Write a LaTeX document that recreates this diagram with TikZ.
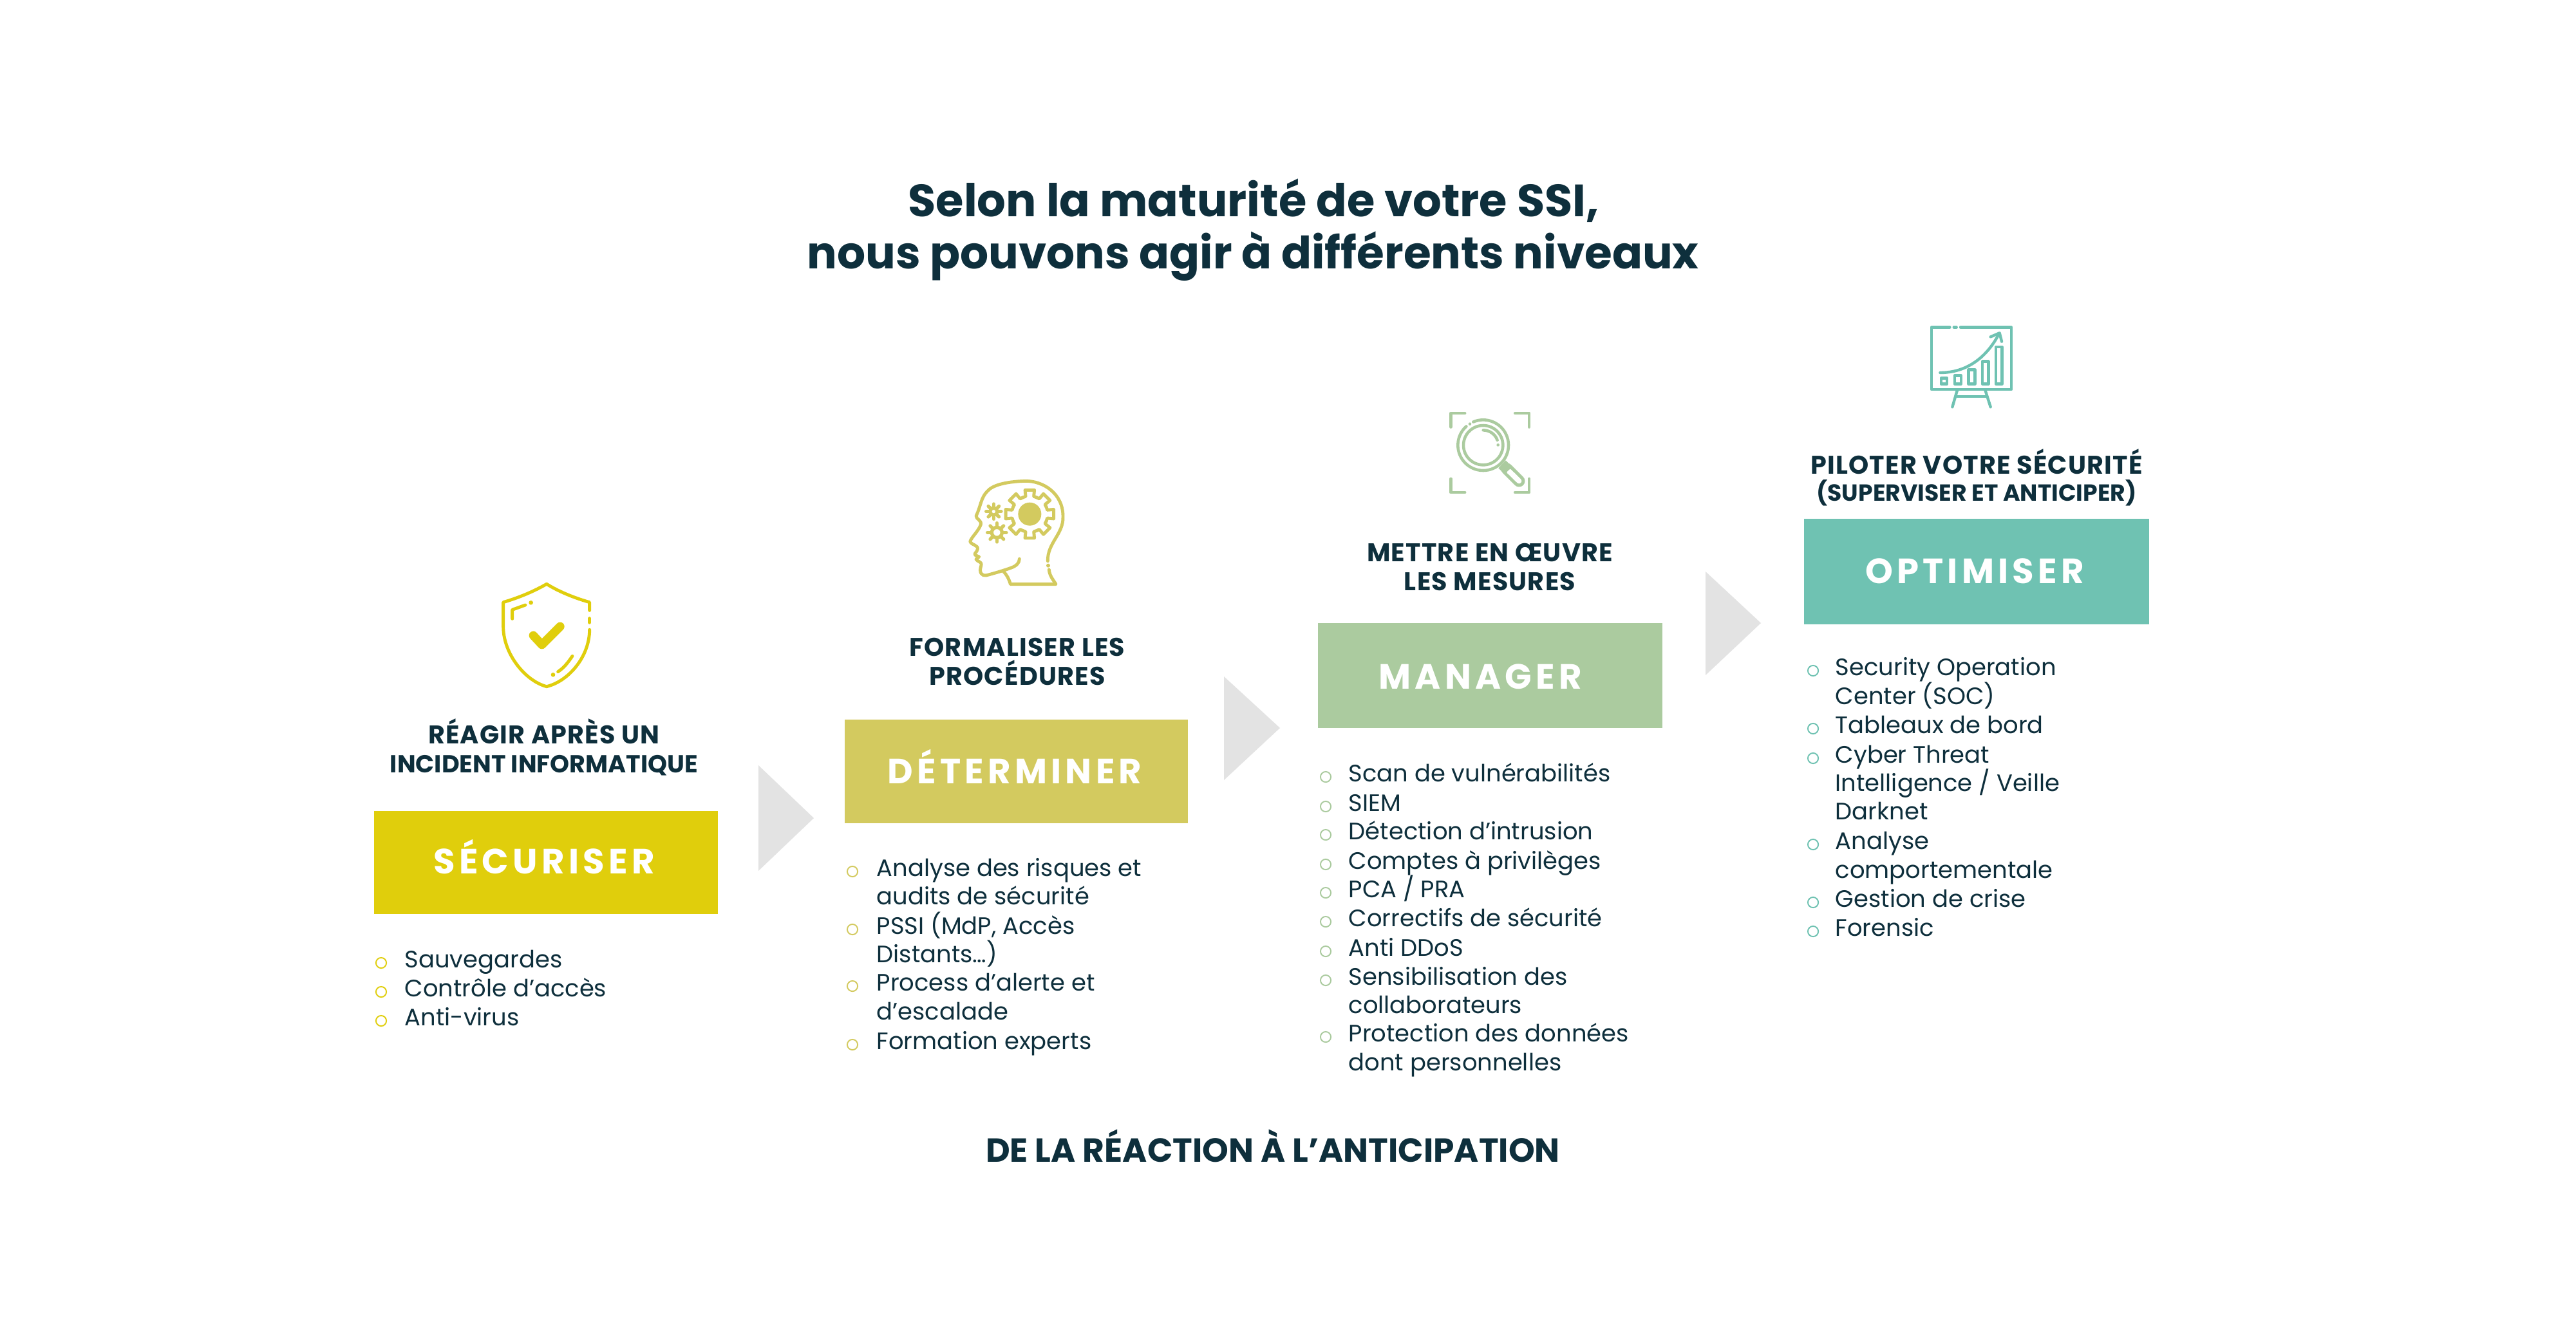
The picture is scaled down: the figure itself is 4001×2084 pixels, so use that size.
\documentclass[tikz,border=0pt]{standalone}
\usepackage{fontspec}
\setmainfont{Poppins}
\newfontfamily\boxfont[LetterSpace=11.5]{Poppins}
\newfontfamily\tetefont[LetterSpace=3]{Poppins}
\definecolor{encre}{HTML}{0E2F3C}
\definecolor{jaune}{HTML}{E0CE0C}
\definecolor{olive}{HTML}{D3CA5F}
\definecolor{vert}{HTML}{ABCB9F}
\definecolor{turquoise}{HTML}{6FC2B2}
\definecolor{gris}{HTML}{E3E3E3}
\tikzset{
  titre/.style={anchor=base,inner sep=0pt,text=encre,font=\fontsize{19.7}{24}\bfseries},
  tete/.style={anchor=base,inner sep=0pt,text=encre,font=\fontsize{11.3}{12}\tetefont\bfseries},
  ligne/.style={anchor=base west,inner sep=0pt,text=encre,font=\fontsize{10.5}{12}\selectfont},
  marque/.style={anchor=base,inner sep=0pt,text=white,font=\fontsize{15.5}{18}\boxfont\bfseries},
  puce/.style={circle,draw=#1,line width=0.55pt,fill=white,minimum size=4.6pt,inner sep=0pt},
  icone/.style={draw=#1,line width=1.4pt,line cap=round,line join=round},
}
\begin{document}
\begin{tikzpicture}[x=0.01cm,y=-0.01cm]
    \useasboundingbox [fill=white] (0,0) rectangle (4001,2084);
    \node [titre,font=\fontsize{20}{24}\bfseries] (t1) at (1947,336) {Selon la maturité de votre SSI,};
    \node [titre] (t2) at (1946,417) {nous pouvons agir à différents niveaux};
    \node [titre,font=\fontsize{14.75}{16}\bfseries] (bas) at (1977,1805) {DE LA RÉACTION À L’ANTICIPATION};

    \fill [gris] (1178,1189) -- (1264,1271) -- (1178,1353) -- cycle;
    \fill [gris] (1901,1051) -- (1988,1131) -- (1901,1212) -- cycle;
    \fill [gris] (2649,888) -- (2735,968) -- (2649,1049) -- cycle;

    \fill [jaune] (581,1260) rectangle (1115,1420);
    \fill [olive] (1312,1118) rectangle (1845,1279);
    \fill [vert] (2047,968) rectangle (2582,1131);
    \fill [turquoise] (2802,806) rectangle (3338,970);
    \node [marque] (securiser) at (845,1357) {SÉCURISER};
    \node [marque] (determiner) at (1576,1217) {DÉTERMINER};
    \node [marque] (manager) at (2299,1070) {MANAGER};
    \node [marque] (optimiser) at (3067,906) {OPTIMISER};

    \node [tete] (h11) at (845,1155) {RÉAGIR APRÈS UN};
    \node [tete,font=\fontsize{10.85}{12}\bfseries] (h12) at (845,1200) {INCIDENT INFORMATIQUE};
    \node [tete] (h21) at (1580,1019) {FORMALISER LES};
    \node [tete] (h22) at (1580,1064) {PROCÉDURES};
    \node [tete] (h31) at (2314,872) {METTRE EN ŒUVRE};
    \node [tete] (h32) at (2314,917) {LES MESURES};
    \node [tete] (h41) at (3070,736) {PILOTER VOTRE SÉCURITÉ};
    \node [tete,font=\fontsize{10.3}{12}\bfseries] (h42) at (3070,778) {(SUPERVISER ET ANTICIPER)};

    \node [ligne] (a1) at (628,1503) {Sauvegardes};
    \node [ligne] (a2) at (628,1548) {Contrôle d’accès};
    \node [ligne] (a3) at (628,1593) {Anti-virus};
    \node [puce=jaune] (pa1) at (592,1496) {};
    \node [puce=jaune] (pa2) at (592,1541) {};
    \node [puce=jaune] (pa3) at (592,1586) {};

    \node [ligne] (b1) at (1361,1361) {Analyse des risques et};
    \node [ligne] (b2) at (1361,1405) {audits de sécurité};
    \node [ligne] (b3) at (1361,1451) {PSSI (MdP, Accès};
    \node [ligne] (b4) at (1361,1495) {Distants…)};
    \node [ligne] (b5) at (1361,1539) {Process d’alerte et};
    \node [ligne] (b6) at (1361,1584) {d’escalade};
    \node [ligne] (b7) at (1361,1630) {Formation experts};
    \node [puce=olive] (pb1) at (1324,1354) {};
    \node [puce=olive] (pb2) at (1324,1444) {};
    \node [puce=olive] (pb3) at (1324,1532) {};
    \node [puce=olive] (pb4) at (1324,1623) {};

    \node [ligne] (c1) at (2094,1214) {Scan de vulnérabilités};
    \node [ligne] (c2) at (2094,1260) {SIEM};
    \node [ligne] (c3) at (2094,1304) {Détection d’intrusion};
    \node [ligne] (c4) at (2094,1350) {Comptes à privilèges};
    \node [ligne] (c5) at (2094,1394) {PCA / PRA};
    \node [ligne] (c6) at (2094,1439) {Correctifs de sécurité};
    \node [ligne] (c7) at (2094,1485) {Anti DDoS};
    \node [ligne] (c8) at (2094,1530) {Sensibilisation des};
    \node [ligne] (c9) at (2094,1574) {collaborateurs};
    \node [ligne] (c10) at (2094,1618) {Protection des données};
    \node [ligne] (c11) at (2094,1663) {dont personnelles};
    \node [puce=vert] (pc1) at (2059,1207) {};
    \node [puce=vert] (pc2) at (2059,1253) {};
    \node [puce=vert] (pc3) at (2059,1297) {};
    \node [puce=vert] (pc4) at (2059,1343) {};
    \node [puce=vert] (pc5) at (2059,1387) {};
    \node [puce=vert] (pc6) at (2059,1432) {};
    \node [puce=vert] (pc7) at (2059,1478) {};
    \node [puce=vert] (pc8) at (2059,1523) {};
    \node [puce=vert] (pc9) at (2059,1611) {};

    \node [ligne] (d1) at (2850,1049) {Security Operation};
    \node [ligne] (d2) at (2850,1094) {Center (SOC)};
    \node [ligne] (d3) at (2850,1139) {Tableaux de bord};
    \node [ligne] (d4) at (2850,1185) {Cyber Threat};
    \node [ligne] (d5) at (2850,1229) {Intelligence / Veille};
    \node [ligne] (d6) at (2850,1273) {Darknet};
    \node [ligne] (d7) at (2850,1319) {Analyse};
    \node [ligne] (d8) at (2850,1364) {comportementale};
    \node [ligne] (d9) at (2850,1409) {Gestion de crise};
    \node [ligne] (d10) at (2850,1454) {Forensic};
    \node [puce=turquoise] (pd1) at (2816,1042) {};
    \node [puce=turquoise] (pd2) at (2816,1132) {};
    \node [puce=turquoise] (pd3) at (2816,1178) {};
    \node [puce=turquoise] (pd4) at (2816,1312) {};
    \node [puce=turquoise] (pd5) at (2816,1402) {};
    \node [puce=turquoise] (pd6) at (2816,1447) {};

    \begin{scope}[shift={(740,890)},scale=0.3333]
        \draw [icone=jaune] (527,175) -- (527,137) .. controls (450,115) and (380,85) .. (327,52) .. controls (270,85) and (200,115) .. (125,137) -- (125,250) .. controls (125,380) and (230,505) .. (327,530) .. controls (430,505) and (527,390) .. (527,265);
        \draw [icone=jaune] (527,212) -- (527,232);
        \draw [icone=jaune] (167,214) -- (167,172) -- (228,150);
        \draw [icone=jaune] (447,388) .. controls (425,420) and (410,440) .. (380,461);
        \fill [jaune] (254,139) circle [radius=10];
        \fill [jaune] (357,475) circle [radius=10];
        \draw [icone=jaune,line width=3.8pt] (265,292) -- (305,335) -- (390,250);
    \end{scope}

    \begin{scope}[shift={(1480,720)},scale=0.3333]
        \draw [icone=olive] (442,455) .. controls (440,370) and (515,330) .. (513,250) .. controls (515,140) and (420,80) .. (335,82) .. controls (250,85) and (185,100) .. (160,130) .. controls (130,160) and (130,200) .. (108,245) .. controls (110,262) and (135,265) .. (130,285) .. controls (120,315) and (85,345) .. (80,365) .. controls (85,380) and (120,380) .. (115,400) .. controls (112,415) and (95,420) .. (105,428) -- (122,435) -- (108,447) .. controls (115,460) and (135,455) .. (132,475) .. controls (120,510) and (135,525) .. (155,522) .. controls (200,510) and (240,498) .. (270,487) .. controls (295,478) and (310,465) .. (310,445);
        \draw [icone=olive] (448,495) .. controls (450,525) and (470,545) .. (480,563) -- (268,563) .. controls (262,540) and (252,520) .. (235,503);
        \fill [olive] (444,476) circle [radius=9];
        \fill [olive] (358,236) circle [radius=54];
        \foreach \a in {0,45,...,315}
            \draw [icone=olive] ([shift={(\a-22.5:84)}]358,236) -- ([shift={(\a-13:84)}]358,236) -- ([shift={(\a-11:114)}]358,236) -- ([shift={(\a+11:114)}]358,236) -- ([shift={(\a+13:84)}]358,236) -- ([shift={(\a+22.5:84)}]358,236);
        \draw [icone=olive,line width=1.5pt] (190,224) circle [radius=17];
        \draw [icone=olive,line width=1.5pt] (205,322) circle [radius=24];
        \foreach \a in {0,45,...,315} {
            \draw [icone=olive,line width=1.5pt] ([shift={(\a:17)}]190,224) -- ([shift={(\a:35)}]190,224);
            \draw [icone=olive,line width=1.5pt] ([shift={(\a:24)}]205,322) -- ([shift={(\a:44)}]205,322);
        }
    \end{scope}

    \begin{scope}[shift={(2200,620)},scale=0.3333]
        \draw [icone=vert] (225,66) -- (160,66) -- (160,130);
        \draw [icone=vert] (460,66) -- (525,66) -- (525,130);
        \draw [icone=vert] (160,372) -- (160,435) -- (225,435);
        \draw [icone=vert] (460,435) -- (525,435) -- (525,372);
        \draw [icone=vert,line width=1.3pt] ([shift={(247:118)}]311,215) arc [start angle=247,end angle=588,radius=118];
        \fill [vert] (249,116) circle [radius=7];
        \draw [icone=vert,line width=1.3pt] (311,215) circle [radius=92];
        \draw [icone=vert,line width=1.3pt] ([shift={(270:70)}]311,215) arc [start angle=270,end angle=340,radius=70];
        \fill [vert] (380,214) circle [radius=7];
        \draw [icone=vert,line width=5.2pt] (422,326) -- (478,382);
        \draw [icone=white,line width=2.3pt] (432,337) -- (478,382);
        \fill [vert] (382,322) -- (416,286) -- (446,316) -- (410,350) -- cycle;
    \end{scope}

    \begin{scope}[shift={(2960,480)},scale=0.3333]
        \tikzset{icone/.append style={line width=1.25pt}}
        \draw [icone=turquoise] (205,85) -- (120,85) -- (120,375) -- (492,375) -- (492,85) -- (255,85);
        \draw [icone=turquoise] (224,85) -- (236,85);
        \draw [icone=turquoise] (240,378) -- (217,457);
        \draw [icone=turquoise] (370,378) -- (395,457);
        \draw [icone=turquoise] (232,408) -- (378,408);
        \draw [icone=turquoise] (165,322) rectangle (192,350);
        \draw [icone=turquoise] (228,310) rectangle (257,350);
        \draw [icone=turquoise] (292,283) rectangle (322,350);
        \draw [icone=turquoise] (357,245) rectangle (385,350);
        \draw [icone=turquoise] (420,177) rectangle (448,350);
        \draw [icone=turquoise] (160,297) .. controls (290,297) and (380,220) .. (435,115);
        \draw [icone=turquoise] (395,130) -- (437,112) -- (447,152);
    \end{scope}
\end{tikzpicture}
\end{document}
